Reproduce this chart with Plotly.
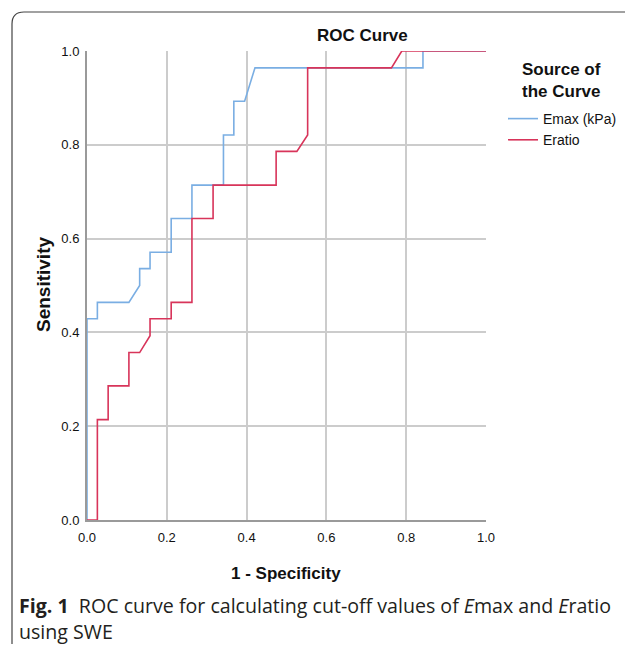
import plotly.graph_objects as go

# ROC coordinates
emax_x = [0, 0, 0.026, 0.026, 0.105, 0.132, 0.132, 0.158, 0.158, 0.211, 0.211, 0.263, 0.263,
          0.342, 0.342, 0.368, 0.368, 0.395, 0.421, 0.842, 0.842, 1.0]
emax_y = [0, 0.429, 0.429, 0.464, 0.464, 0.5, 0.536, 0.536, 0.571, 0.571, 0.643, 0.643, 0.714,
          0.714, 0.821, 0.821, 0.893, 0.893, 0.964, 0.964, 1.0, 1.0]
eratio_x = [0, 0.026, 0.026, 0.053, 0.053, 0.105, 0.105, 0.132, 0.158, 0.158, 0.211, 0.211,
            0.263, 0.263, 0.316, 0.316, 0.474, 0.474, 0.526, 0.553, 0.553, 0.763, 0.789, 1.0]
eratio_y = [0, 0, 0.214, 0.214, 0.286, 0.286, 0.357, 0.357, 0.393, 0.429, 0.429, 0.464,
            0.464, 0.643, 0.643, 0.714, 0.714, 0.786, 0.786, 0.821, 0.964, 0.964, 1.0, 1.0]
series_names = ["Emax (kPa)", "Eratio"]
tick_vals = [0.0, 0.2, 0.4, 0.6, 0.8, 1.0]
tick_text = ["0.0", "0.2", "0.4", "0.6", "0.8", "1.0"]

W, H = 625, 647
L, R, T, B = 87, 486, 51, 520  # plot area in pixels

def px(x):
    return (x - L) / (R - L)

def py(y):
    return (B - y) / (B - T)

NARROW = "Liberation Sans Narrow, Arial Narrow, Liberation Sans, Arial"
CAP = "Open Sans, Noto Sans, sans-serif"

fig = go.Figure()
fig.add_trace(go.Scatter(x=emax_x, y=emax_y, mode="lines", name=series_names[0],
                         line=dict(color="#7aaee3", width=1.6)))
fig.add_trace(go.Scatter(x=eratio_x, y=eratio_y, mode="lines", name=series_names[1],
                         line=dict(color="#d8345a", width=1.6)))

axis_common = dict(range=[0, 1], tickvals=tick_vals, ticktext=tick_text,
                   showgrid=True, gridcolor="#cccccc", gridwidth=1.5,
                   zeroline=False, showline=True, linecolor="#9a9a9a", linewidth=2,
                   ticks="", tickfont=dict(family=NARROW, size=13, color="#111111"),
                   fixedrange=True)

fig.update_layout(
    width=W, height=H,
    margin=dict(l=L, r=W - R, t=T, b=H - B, autoexpand=False),
    paper_bgcolor="white", plot_bgcolor="white",
    xaxis=dict(**axis_common, ticklabelstandoff=4),
    yaxis=dict(**axis_common, ticklabelstandoff=3),
    showlegend=True,
    legend=dict(
        x=px(503), y=py(103), xanchor="left", yanchor="top",
        font=dict(family=NARROW, size=14, color="#111"),
        itemwidth=30, tracegroupgap=0, bgcolor="rgba(0,0,0,0)",
    ),
    shapes=[
        dict(type="path", xref="paper", yref="paper",
             path=(f"M {px(12)} {py(644)} Q {px(12)} {py(640)} {px(12)} {py(632)} "
                   f"L {px(12)} {py(24)} Q {px(12)} {py(12)} {px(24)} {py(12)} L {px(630)} {py(12)}"),
             line=dict(color="#444444", width=1.2)),
    ],
    annotations=[
        dict(text="<b>ROC Curve</b>", x=px(362), y=py(36), xref="paper", yref="paper",
             xanchor="center", yanchor="middle",
             showarrow=False, font=dict(family=NARROW, size=17, color="#111")),
        dict(text="<b>Source of<br>the Curve</b>", x=px(561), y=py(81), xref="paper", yref="paper",
             xanchor="center", yanchor="middle",
             showarrow=False, font=dict(family=NARROW, size=17, color="#111")),
        dict(text="<b>1 - Specificity</b>", x=px(286), y=py(573), xref="paper", yref="paper",
             xanchor="center", yanchor="middle",
             showarrow=False, font=dict(family=NARROW, size=17, color="#111")),
        dict(text="<b>Sensitivity</b>", x=px(43), y=py(285), xref="paper", yref="paper",
             xanchor="center", yanchor="middle",
             showarrow=False, textangle=-90, font=dict(family=NARROW, size=19, color="#111")),
        dict(text="<b>Fig. 1</b>  ROC curve for calculating cut-off values of <i>E</i>max and <i>E</i>ratio",
             x=px(17), y=py(605), xref="paper", yref="paper", xanchor="left", yanchor="middle",
             showarrow=False, font=dict(family=CAP, size=19.6, color="#231f20")),
        dict(text="using SWE",
             x=px(17), y=py(631), xref="paper", yref="paper", xanchor="left", yanchor="middle",
             showarrow=False, font=dict(family=CAP, size=19.6, color="#231f20")),
    ],
)

fig.write_html("out.html", config={"displayModeBar": False},
               post_script="document.body.style.margin='0';")
